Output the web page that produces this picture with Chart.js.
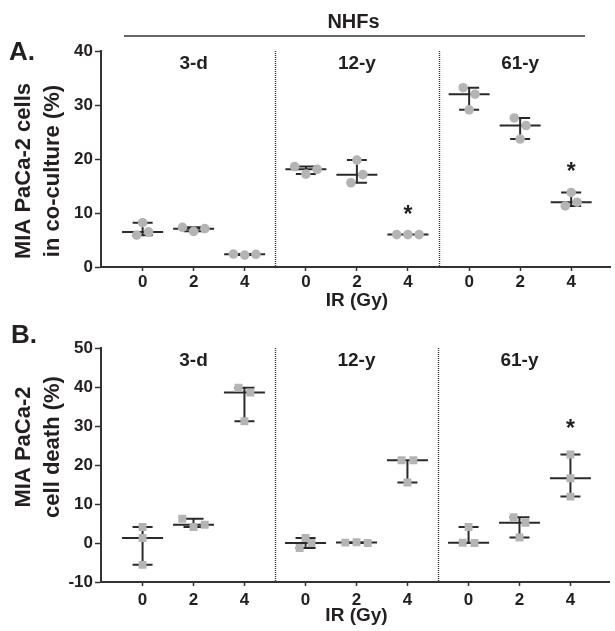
<!DOCTYPE html>
<html><head><meta charset="utf-8">
<script src="https://cdn.jsdelivr.net/npm/chart.js@4.4.1/dist/chart.umd.min.js"></script>
<style>
html,body{margin:0;padding:0;background:#fff;}
#wrap{position:relative;width:615px;height:631px;overflow:hidden;}
canvas{position:absolute;left:0;}
</style></head><body>
<div id="wrap">
<canvas id="cA" width="615" height="312" style="top:0;width:615px;height:312px"></canvas>
<canvas id="cB" width="615" height="319" style="top:312px;width:615px;height:319px"></canvas>
</div>
<script>
// ---------------- data ----------------
const groups = ['3-d', '12-y', '61-y'];
const doseLabels = ['0', '2', '4'];
const supergroupLabel = 'NHFs';
const xTitle = 'IR (Gy)';

// Panel A: MIA PaCa-2 cells in co-culture (%), three replicates per dose (0, 2, 4 Gy)
const cocA_3d  = [[8.2, 5.9, 6.5], [7.35, 6.6, 7.1], [2.4, 2.2, 2.35]];
const cocA_12y = [[18.6, 17.2, 18.1], [19.8, 15.6, 17.1], [6.0, 6.0, 6.0]];
const cocA_61y = [[33.2, 32.0, 29.1], [27.6, 26.2, 23.7], [11.3, 12.0, 13.8]];
const sigA = [['', '', ''], ['', '', '*'], ['', '', '*']];
const yTicksA = [0, 10, 20, 30, 40];

// Panel B: MIA PaCa-2 cell death (%)
const deathB_3d  = [[4.1, 1.3, -5.6], [6.2, 4.1, 4.7], [39.8, 38.6, 31.2]];
const deathB_12y = [[-1.3, 1.3, 0.0], [0.1, 0.2, 0.0], [21.2, 21.2, 15.5]];
const deathB_61y = [[4.1, 0.05, 0.0], [6.6, 5.2, 1.4], [22.7, 16.6, 11.9]];
const sigB = [['', '', ''], ['', '', ''], ['', '', '*']];
const yTicksB = [-10, 0, 10, 20, 30, 40, 50];

// ---------------- layout / style ----------------
const GROUP_GAP = 3.2;           // x distance between groups (in dose steps)
const X_MIN = -0.816, X_MAX = 9.165;
const FONT = '"Liberation Sans", Arial, Helvetica, sans-serif';
const INK = '#231f20';
const LINE = '#2a2a2a';
const PT = '#b4b4b4';

const tickPos = [];
groups.forEach((g, gi) => doseLabels.forEach((d, di) => tickPos.push(gi * GROUP_GAP + di)));

function median(a) { const s = [...a].sort((p, q) => p - q); return s[Math.floor(s.length / 2)]; }

// spread overlapping replicates horizontally (like GraphPad scatter)
function spread(vals, thr) {
  const idx = vals.map((v, i) => i).sort((a, b) => vals[a] - vals[b]);
  const offs = new Array(vals.length).fill(0);
  let grp = [];
  const flush = () => {
    const m = [...grp].sort((a, b) => a - b);
    const pat = m.length === 2 ? [-0.116, 0.116] : m.length === 3 ? [-0.22, 0, 0.22] : [0];
    m.forEach((k, j) => offs[k] = pat[j] || 0);
  };
  idx.forEach(i => {
    if (grp.length && vals[i] - vals[grp[0]] >= thr) { flush(); grp = []; }
    grp.push(i);
  });
  if (grp.length) flush();
  return offs;
}

function text(ctx, s, x, y, size, align, base) {
  ctx.save();
  ctx.font = 'bold ' + size + 'px ' + FONT;
  ctx.fillStyle = INK;
  ctx.textAlign = align || 'center';
  ctx.textBaseline = base || 'alphabetic';
  ctx.fillText(s, x, y);
  ctx.restore();
}

function makePanel(id, cfg) {
  const pts = [];
  const thr = (cfg.yMax - cfg.yMin) * 0.04;
  cfg.data.forEach((grp, g) => grp.forEach((vals, d) => {
    const offs = spread(vals, thr);
    vals.forEach((v, i) => pts.push({ x: g * GROUP_GAP + d + offs[i], y: v }));
  }));

  const overlay = {
    id: 'overlay' + id,
    beforeDatasetsDraw(chart) {
      const ctx = chart.ctx, xs = chart.scales.x, ys = chart.scales.y, ca = chart.chartArea;
      ctx.save();
      // dotted group separators
      ctx.strokeStyle = '#333';
      ctx.lineWidth = 1.4;
      ctx.setLineDash([1, 1]);
      for (let g = 1; g < groups.length; g++) {
        const x = Math.round(xs.getPixelForValue(g * GROUP_GAP - (GROUP_GAP - 2) / 2)) + 0.5;
        ctx.beginPath(); ctx.moveTo(x, ca.top); ctx.lineTo(x, ca.bottom); ctx.stroke();
      }
      ctx.setLineDash([]);
      // median with range
      ctx.strokeStyle = LINE;
      ctx.lineWidth = 2;
      cfg.data.forEach((grp, g) => grp.forEach((vals, d) => {
        const xc = xs.getPixelForValue(g * GROUP_GAP + d);
        const ym = ys.getPixelForValue(median(vals));
        const y0 = ys.getPixelForValue(Math.min(...vals));
        const y1 = ys.getPixelForValue(Math.max(...vals));
        ctx.beginPath();
        ctx.moveTo(xc - 20.5, ym); ctx.lineTo(xc + 20.5, ym);
        ctx.moveTo(xc, y0); ctx.lineTo(xc, y1);
        ctx.moveTo(xc - 10, y0); ctx.lineTo(xc + 10, y0);
        ctx.moveTo(xc - 10, y1); ctx.lineTo(xc + 10, y1);
        ctx.stroke();
      }));
      ctx.restore();
    },
    afterDraw(chart) {
      const ctx = chart.ctx, xs = chart.scales.x, ys = chart.scales.y, ca = chart.chartArea;
      // group titles
      groups.forEach((g, gi) => text(ctx, g, xs.getPixelForValue(gi * GROUP_GAP + 1), ca.top + 13, 19, 'center', 'middle'));
      // significance stars
      cfg.sig.forEach((row, g) => row.forEach((s, d) => {
        if (!s) return;
        const vals = cfg.data[g][d];
        const yc = ys.getPixelForValue(Math.max(...vals)) - cfg.starGap;
        text(ctx, s, xs.getPixelForValue(g * GROUP_GAP + d), yc + 13, 23, 'center', 'alphabetic');
      }));
      // x title
      text(ctx, xTitle, xs.getPixelForValue(GROUP_GAP + 1), cfg.xTitleY, 19, 'center', 'alphabetic');
      // y title (two rotated lines)
      ctx.save();
      ctx.translate(0, cfg.yTitleY);
      ctx.rotate(-Math.PI / 2);
      text(ctx, cfg.yTitle[0], 0, 24, 22, 'center', 'middle');
      text(ctx, cfg.yTitle[1], 0, 53, 22, 'center', 'middle');
      ctx.restore();
      // panel letter
      text(ctx, cfg.letter, cfg.letterX, cfg.letterY, 26, 'left', 'alphabetic');
      if (cfg.extra) cfg.extra(ctx, xs);
    }
  };

  return new Chart(document.getElementById(id), {
    type: 'scatter',
    data: { datasets: [{
      data: pts,
      pointStyle: cfg.pointStyle,
      pointRadius: cfg.r, pointHoverRadius: cfg.r,
      pointBackgroundColor: PT, pointBorderColor: PT, pointBorderWidth: 0,
      backgroundColor: PT, borderColor: PT, borderWidth: 0
    }] },
    options: {
      responsive: false, animation: false, devicePixelRatio: 1, events: [],
      elements: { point: { pointStyle: cfg.pointStyle, radius: cfg.r, rotation: 0 } },
      layout: { padding: { top: cfg.top, left: 0, right: 0, bottom: 0 } },
      plugins: { legend: { display: false }, tooltip: { enabled: false } },
      scales: {
        x: {
          type: 'linear', min: X_MIN, max: X_MAX,
          afterBuildTicks: s => { s.ticks = tickPos.map(v => ({ value: v })); },
          afterFit: s => { s.height = cfg.xH; },
          ticks: { callback: (v, i) => doseLabels[i % 3], font: { family: FONT, size: 17, weight: 'bold' },
                   color: INK, padding: cfg.xPad, maxRotation: 0, autoSkip: false },
          grid: { drawOnChartArea: false, drawTicks: true, tickLength: 4, tickWidth: 1.5, tickColor: '#333' },
          border: { display: true, color: '#333', width: 2 }
        },
        y: {
          min: cfg.yMin, max: cfg.yMax,
          afterBuildTicks: s => { s.ticks = cfg.yTicks.map(v => ({ value: v })); },
          afterFit: s => { s.width = 101; },
          ticks: { font: { family: FONT, size: 17, weight: 'bold' }, color: INK, padding: 2 },
          grid: { drawOnChartArea: false, drawTicks: true, tickLength: 6, tickWidth: 1.5, tickColor: '#333' },
          border: { display: true, color: '#333', width: 2 }
        }
      }
    },
    plugins: [overlay]
  });
}

makePanel('cA', {
  data: [cocA_3d, cocA_12y, cocA_61y], sig: sigA, yTicks: yTicksA, yMin: 0, yMax: 40,
  pointStyle: 'circle', r: 4.8, top: 51, xH: 45, xPad: 1, starGap: 26,
  xTitleY: 306, yTitleY: 171, yTitle: ['MIA PaCa-2 cells', 'in co-culture (%)'],
  letter: 'A.', letterX: 9, letterY: 60,
  extra(ctx, xs) {
    text(ctx, supergroupLabel, 353.5, 28, 20, 'center', 'alphabetic');
    ctx.save(); ctx.strokeStyle = '#333'; ctx.lineWidth = 1.6;
    ctx.beginPath(); ctx.moveTo(124, 36); ctx.lineTo(585, 36); ctx.stroke(); ctx.restore();
  }
});

makePanel('cB', {
  data: [deathB_3d, deathB_12y, deathB_61y], sig: sigB, yTicks: yTicksB, yMin: -10, yMax: 50,
  pointStyle: 'rect', r: 5.6, top: 36, xH: 49, xPad: 4, starGap: 31,
  xTitleY: 309, yTitleY: 135, yTitle: ['MIA PaCa-2', 'cell death (%)'],
  letter: 'B.', letterX: 11, letterY: 31
});
</script>
</body></html>
